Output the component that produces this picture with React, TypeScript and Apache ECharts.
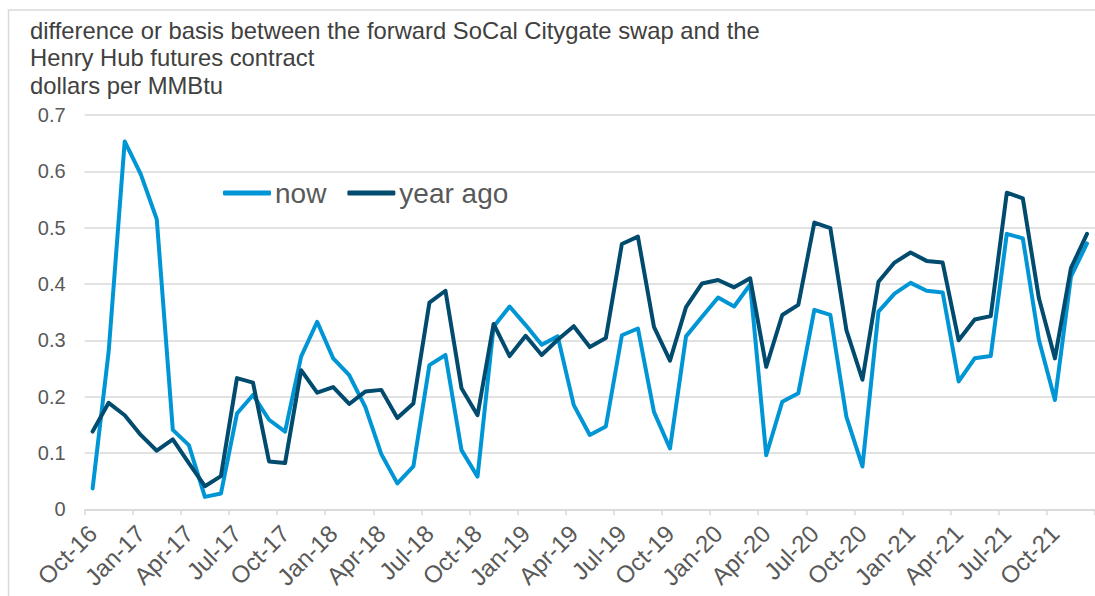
import React, { useEffect, useRef } from "react";
import * as echarts from "echarts";

const titleLines = [
  "difference or basis between the forward SoCal Citygate swap and the",
  "Henry Hub futures contract",
  "dollars per MMBtu",
];

const categories = [
  "Oct-16", "Nov-16", "Dec-16",
  "Jan-17", "Feb-17", "Mar-17", "Apr-17", "May-17", "Jun-17", "Jul-17", "Aug-17", "Sep-17", "Oct-17", "Nov-17", "Dec-17",
  "Jan-18", "Feb-18", "Mar-18", "Apr-18", "May-18", "Jun-18", "Jul-18", "Aug-18", "Sep-18", "Oct-18", "Nov-18", "Dec-18",
  "Jan-19", "Feb-19", "Mar-19", "Apr-19", "May-19", "Jun-19", "Jul-19", "Aug-19", "Sep-19", "Oct-19", "Nov-19", "Dec-19",
  "Jan-20", "Feb-20", "Mar-20", "Apr-20", "May-20", "Jun-20", "Jul-20", "Aug-20", "Sep-20", "Oct-20", "Nov-20", "Dec-20",
  "Jan-21", "Feb-21", "Mar-21", "Apr-21", "May-21", "Jun-21", "Jul-21", "Aug-21", "Sep-21", "Oct-21", "Nov-21", "Dec-21",
];

const nowValues = [
  0.037, 0.28, 0.653, 0.595, 0.515, 0.141, 0.114, 0.022, 0.028, 0.17, 0.203, 0.159,
  0.138, 0.271, 0.333, 0.268, 0.238, 0.182, 0.098, 0.046, 0.076, 0.256, 0.274, 0.105,
  0.058, 0.324, 0.36, 0.327, 0.292, 0.307, 0.185, 0.132, 0.147, 0.309, 0.321, 0.173,
  0.108, 0.307, 0.342, 0.376, 0.36, 0.399, 0.096, 0.191, 0.206, 0.354, 0.345, 0.164,
  0.076, 0.351, 0.383, 0.402, 0.388, 0.385, 0.227, 0.268, 0.272, 0.489, 0.481, 0.301,
  0.194, 0.413, 0.472,
];

const yearAgoValues = [
  0.138, 0.189, 0.167, 0.132, 0.104, 0.124, 0.082, 0.041, 0.059, 0.233, 0.225, 0.085,
  0.082, 0.247, 0.207, 0.217, 0.187, 0.209, 0.212, 0.162, 0.188, 0.367, 0.388, 0.215,
  0.167, 0.329, 0.272, 0.308, 0.274, 0.301, 0.325, 0.288, 0.304, 0.471, 0.484, 0.324,
  0.264, 0.359, 0.401, 0.407, 0.394, 0.41, 0.253, 0.345, 0.363, 0.509, 0.499, 0.318,
  0.23, 0.404, 0.438, 0.456, 0.441, 0.438, 0.3, 0.337, 0.343, 0.562, 0.552, 0.375,
  0.268, 0.428, 0.489,
];

const seriesNames = ["now", "year ago"];
const yTicks = { min: 0, max: 0.7, interval: 0.1 };

const FONT = "'Liberation Sans', Arial, sans-serif";
const TEXT = "#595959";
const GRID = "#d9d9d9";
const NOW_COLOR = "#0096d6";
const YA_COLOR = "#004b6e";

export default function App() {
  const ref = useRef<HTMLDivElement>(null);

  useEffect(() => {
    if (!ref.current) return;
    const chart = echarts.init(ref.current, undefined, { renderer: "svg" });
    const lineStyle = (c: string) => ({ color: c, width: 4, cap: "round", join: "round" });
    chart.setOption({
      animation: false,
      backgroundColor: "#ffffff",
      textStyle: { fontFamily: FONT },
      title: {
        text: titleLines.join("\n"),
        left: 30,
        top: 17,
        padding: 0,
        textStyle: {
          fontFamily: FONT,
          fontSize: 23.8,
          fontWeight: "normal",
          color: "#404040",
          lineHeight: 27.2,
        },
      },
      graphic: [
        {
          type: "rect",
          shape: { x: 8.5, y: 10, width: 1200, height: 800 },
          style: { fill: "none", stroke: GRID, lineWidth: 1.5 },
          silent: true,
          z: -1,
        },
      ],
      legend: {
        left: 223,
        top: 179,
        padding: 0,
        icon: "roundRect",
        itemWidth: 48,
        itemHeight: 5,
        itemGap: 21,
        data: seriesNames,
        textStyle: { fontFamily: FONT, fontSize: 28, color: TEXT, padding: [0, 0, 0, -1] },
      },
      grid: { left: 84.6, top: 115, width: 1013.7, height: 394.3 },
      xAxis: {
        type: "category",
        data: categories,
        boundaryGap: true,
        axisLine: { show: true, lineStyle: { color: GRID, width: 1.5 } },
        axisTick: { show: true, interval: 2, length: 6, lineStyle: { color: GRID, width: 1.5 } },
        axisLabel: {
          interval: 2,
          rotate: 45,
          margin: 20,
          fontFamily: FONT,
          fontSize: 24,
          color: TEXT,
        },
        splitLine: { show: false },
      },
      yAxis: {
        type: "value",
        min: yTicks.min,
        max: yTicks.max,
        interval: yTicks.interval,
        axisLine: { show: false },
        axisTick: { show: false },
        axisLabel: { margin: 19, fontFamily: FONT, fontSize: 20, color: TEXT },
        splitLine: { lineStyle: { color: GRID, width: 1.5 } },
      },
      series: [
        {
          name: seriesNames[0],
          type: "line",
          data: nowValues,
          symbol: "none",
          color: NOW_COLOR,
          lineStyle: lineStyle(NOW_COLOR),
        },
        {
          name: seriesNames[1],
          type: "line",
          data: yearAgoValues,
          symbol: "none",
          color: YA_COLOR,
          lineStyle: lineStyle(YA_COLOR),
        },
      ],
    });
    return () => chart.dispose();
  }, []);

  return (
    <div
      ref={ref}
      style={{ position: "absolute", left: 0, top: 0, width: 1095, height: 596 }}
    />
  );
}
